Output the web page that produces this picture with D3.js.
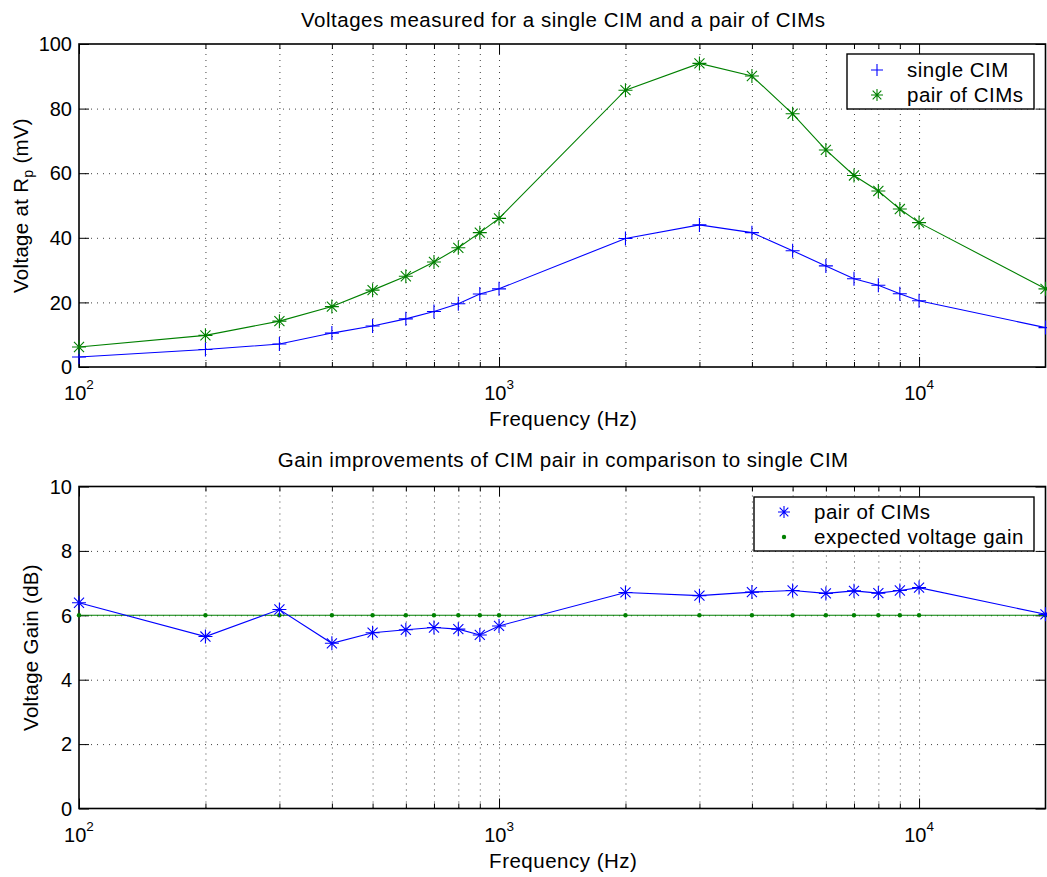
<!DOCTYPE html>
<html>
<head>
<meta charset="utf-8">
<script src="https://cdn.jsdelivr.net/npm/d3@7/dist/d3.min.js"></script>
<style>
  html, body { margin: 0; padding: 0; background: #fff; }
  svg { display: block; font-family: "Liberation Sans", Arial, Helvetica, sans-serif; }
</style>
</head>
<body>
<svg id="chart" width="1047" height="877"></svg>
<script>
// ---- data ----
const freqs = [100, 200, 300, 400, 500, 600, 700, 800, 900, 1000,
               2000, 3000, 4000, 5000, 6000, 7000, 8000, 9000, 10000, 20000];
const singleCIM = [3.1, 5.4, 7.1, 10.5, 12.7, 14.9, 17.2, 19.6, 22.6, 24.2,
                   39.8, 44.0, 41.6, 36.0, 31.3, 27.3, 25.3, 22.7, 20.5, 12.2];
const pairCIMs = [6.2, 9.8, 14.2, 18.7, 23.8, 28.1, 32.5, 36.9, 41.6, 46.0,
                  85.7, 94.0, 90.1, 78.4, 67.2, 59.3, 54.5, 48.9, 44.7, 24.2];
const gainPair = [6.39, 5.34, 6.18, 5.13, 5.46, 5.55, 5.62, 5.57, 5.39, 5.67,
                  6.71, 6.61, 6.72, 6.77, 6.68, 6.76, 6.69, 6.77, 6.86, 6.03];
const expectedGain = [6, 6, 6, 6, 6, 6, 6, 6, 6, 6,
                      6, 6, 6, 6, 6, 6, 6, 6, 6, 6];
const xMajorTicks = [100, 1000, 10000];
const xMajorExp = ["2", "3", "4"];
const xMinorTicks = [200, 300, 400, 500, 600, 700, 800, 900,
                     2000, 3000, 4000, 5000, 6000, 7000, 8000, 9000];
const topYTicks = [0, 20, 40, 60, 80, 100];
const botYTicks = [0, 2, 4, 6, 8, 10];

const svg = d3.select("#chart");
const BLUE = "#0000ff", GREEN = "#008000";
const L = 79, R = 1045.5;
const FS = 20.5, LS = 0.5;

function plusPath(s) { return `M${-s},0H${s}M0,${-s}V${s}`; }
function starPath(s) {
  const d = s * 0.72;
  return `M${-s},0H${s}M0,${-s}V${s}M${-d},${-d}L${d},${d}M${-d},${d}L${d},${-d}`;
}

function panel(opts) {
  const { top, bottom, yDomain, yTicks, title, titleY, yLabelX, yLabel } = opts;
  const x = d3.scaleLog().domain([100, 20000]).range([L, R]);
  const y = d3.scaleLinear().domain(yDomain).range([bottom, top]);
  const g = svg.append("g");
  const H = bottom - top, W = R - L;

  // grid (dotted)
  const gridX = g.append("g").attr("transform", `translate(0,${bottom})`)
    .call(d3.axisBottom(x).tickValues(xMinorTicks.concat([1000, 10000])).tickSize(-H).tickFormat(""));
  const gridY = g.append("g").attr("transform", `translate(${L},0)`)
    .call(d3.axisLeft(y).tickValues(yTicks.slice(1, -1)).tickSize(-W).tickFormat(""));
  [gridX, gridY].forEach(a => {
    a.select(".domain").remove();
    a.selectAll("line").attr("stroke", "#000").attr("stroke-width", 1)
      .attr("stroke-dasharray", "1,5").attr("opacity", 0.75);
  });

  const mk = (axisFn, scale, vals, size, tr) => {
    const a = g.append("g").attr("transform", tr)
      .call(axisFn(scale).tickValues(vals).tickSize(size).tickFormat(""));
    a.select(".domain").remove();
    a.selectAll("line").attr("stroke", "#000").attr("stroke-width", 1);
    return a;
  };
  mk(d3.axisBottom, x, xMajorTicks, -10, `translate(0,${bottom})`);
  mk(d3.axisBottom, x, xMinorTicks, -5, `translate(0,${bottom})`);
  mk(d3.axisTop, x, xMajorTicks, -10, `translate(0,${top})`);
  mk(d3.axisTop, x, xMinorTicks, -5, `translate(0,${top})`);
  mk(d3.axisLeft, y, yTicks, -10, `translate(${L},0)`);
  mk(d3.axisRight, y, yTicks, -10, `translate(${R},0)`);

  // frame
  g.append("rect").attr("x", L).attr("y", top).attr("width", W).attr("height", H)
    .attr("fill", "none").attr("stroke", "#000").attr("stroke-width", 1.6);

  // y tick labels
  g.append("g").selectAll("text").data(yTicks).join("text")
    .attr("x", L - 7).attr("y", d => y(d)).attr("dy", "0.36em")
    .attr("text-anchor", "end").attr("font-size", 20).attr("fill", "#000")
    .text(d => d);

  // x tick labels 10^n
  const xl = g.append("g").selectAll("text").data(xMajorTicks).join("text")
    .attr("x", d => x(d)).attr("y", bottom + 33)
    .attr("text-anchor", "middle").attr("font-size", 20).attr("fill", "#000");
  xl.append("tspan").text("10");
  xl.append("tspan").attr("font-size", 13.5).attr("dy", -11).text((d, i) => xMajorExp[i]);

  // x label
  g.append("text").attr("x", (L + R) / 2 + 1).attr("y", bottom + 59)
    .attr("text-anchor", "middle").attr("font-size", FS).attr("letter-spacing", LS)
    .text("Frequency (Hz)");

  // title
  g.append("text").attr("x", (L + R) / 2 + 1).attr("y", titleY)
    .attr("text-anchor", "middle").attr("font-size", FS).attr("letter-spacing", LS)
    .text(title);

  // y label
  const yl = g.append("text")
    .attr("transform", `translate(${yLabelX},${(top + bottom) / 2}) rotate(-90)`)
    .attr("text-anchor", "middle").attr("font-size", FS).attr("letter-spacing", 0.3);
  yLabel(yl);

  return { g, x, y };
}

// ---- top panel ----
const p1 = panel({
  top: 44, bottom: 367, yDomain: [0, 100], yTicks: topYTicks,
  title: "Voltages measured for a single CIM and a pair of CIMs", titleY: 27,
  yLabelX: 28,
  yLabel: t => {
    t.append("tspan").text("Voltage at R");
    t.append("tspan").attr("font-size", 14).attr("dy", 5).text("p");
    t.append("tspan").attr("dy", -5).text(" (mV)");
  }
});
const line1 = (vals) => d3.line().x((d, i) => p1.x(freqs[i])).y(d => p1.y(d))(vals);
p1.g.append("path").attr("d", line1(singleCIM)).attr("fill", "none").attr("stroke", BLUE).attr("stroke-width", 1.1);
p1.g.append("path").attr("d", line1(pairCIMs)).attr("fill", "none").attr("stroke", GREEN).attr("stroke-width", 1.1);
p1.g.append("g").selectAll("path").data(singleCIM).join("path")
  .attr("transform", (d, i) => `translate(${p1.x(freqs[i])},${p1.y(d)})`)
  .attr("d", plusPath(7)).attr("stroke", BLUE).attr("stroke-width", 1.1).attr("fill", "none");
p1.g.append("g").selectAll("path").data(pairCIMs).join("path")
  .attr("transform", (d, i) => `translate(${p1.x(freqs[i])},${p1.y(d)})`)
  .attr("d", starPath(7)).attr("stroke", GREEN).attr("stroke-width", 1.1).attr("fill", "none");

// legend top
const lg1 = p1.g.append("g");
lg1.append("rect").attr("x", 847).attr("y", 54).attr("width", 187).attr("height", 55)
  .attr("fill", "#fff").attr("stroke", "#000").attr("stroke-width", 1.4);
lg1.append("path").attr("transform", "translate(877,70)").attr("d", plusPath(6))
  .attr("stroke", BLUE).attr("stroke-width", 1.1);
lg1.append("path").attr("transform", "translate(877,95)").attr("d", starPath(6))
  .attr("stroke", GREEN).attr("stroke-width", 1.1);
lg1.append("text").attr("x", 907).attr("y", 70).attr("dy", "0.36em").attr("font-size", FS).attr("letter-spacing", LS).text("single CIM");
lg1.append("text").attr("x", 907).attr("y", 95).attr("dy", "0.36em").attr("font-size", FS).attr("letter-spacing", LS).text("pair of CIMs");

// ---- bottom panel ----
const p2 = panel({
  top: 486.5, bottom: 808.5, yDomain: [0, 10], yTicks: botYTicks,
  title: "Gain improvements of CIM pair in comparison to single CIM", titleY: 467,
  yLabelX: 38,
  yLabel: t => t.text("Voltage Gain (dB)")
});
const line2 = (vals) => d3.line().x((d, i) => p2.x(freqs[i])).y(d => p2.y(d))(vals);
p2.g.append("path").attr("d", line2(expectedGain)).attr("fill", "none").attr("stroke", GREEN).attr("stroke-width", 1.1);
p2.g.append("path").attr("d", line2(gainPair)).attr("fill", "none").attr("stroke", BLUE).attr("stroke-width", 1.1);
p2.g.append("g").selectAll("circle").data(expectedGain).join("circle")
  .attr("cx", (d, i) => p2.x(freqs[i])).attr("cy", d => p2.y(d)).attr("r", 2.2).attr("fill", GREEN);
p2.g.append("g").selectAll("path").data(gainPair).join("path")
  .attr("transform", (d, i) => `translate(${p2.x(freqs[i])},${p2.y(d)})`)
  .attr("d", starPath(7)).attr("stroke", BLUE).attr("stroke-width", 1.1).attr("fill", "none");

// legend bottom
const lg2 = p2.g.append("g");
lg2.append("rect").attr("x", 754).attr("y", 497).attr("width", 280).attr("height", 54)
  .attr("fill", "#fff").attr("stroke", "#000").attr("stroke-width", 1.4);
lg2.append("path").attr("transform", "translate(784,512)").attr("d", starPath(6))
  .attr("stroke", BLUE).attr("stroke-width", 1.1);
lg2.append("circle").attr("cx", 784).attr("cy", 537).attr("r", 2.2).attr("fill", GREEN);
lg2.append("text").attr("x", 814).attr("y", 512).attr("dy", "0.36em").attr("font-size", FS).attr("letter-spacing", LS).text("pair of CIMs");
lg2.append("text").attr("x", 814).attr("y", 537).attr("dy", "0.36em").attr("font-size", FS).attr("letter-spacing", LS).text("expected voltage gain");
</script>
</body>
</html>
